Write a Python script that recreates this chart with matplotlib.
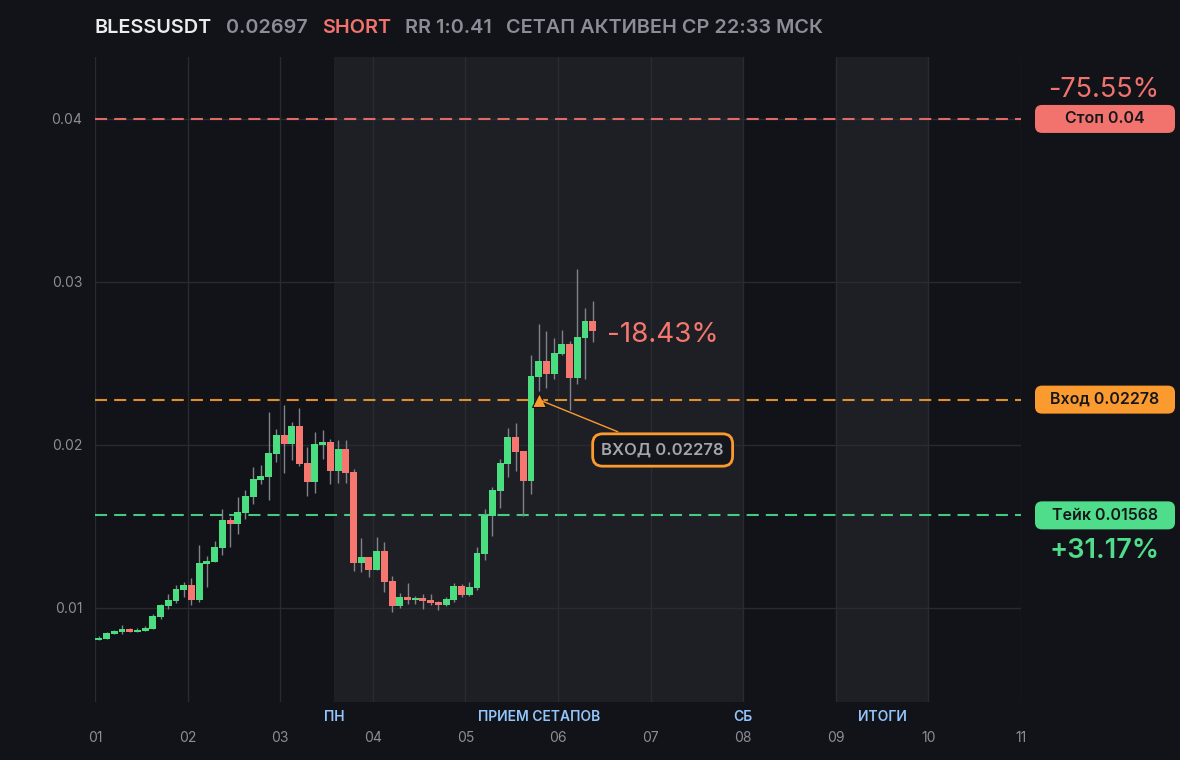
import numpy as np
import matplotlib
matplotlib.use("Agg")
import matplotlib.pyplot as plt
from matplotlib.patches import FancyBboxPatch
from matplotlib.transforms import IdentityTransform, blended_transform_factory

plt.rcParams['font.family'] = ['Inter', 'DejaVu Sans']

# --- data: 2h candles starting on day 01 ---
opens = [0.00806, 0.00810, 0.00842, 0.00855, 0.00871, 0.00855, 0.00861, 0.00873, 0.00947, 0.01014,
         0.01045, 0.01112, 0.01141, 0.01051, 0.01272, 0.01284, 0.01370, 0.01540, 0.01517, 0.01585,
         0.01683, 0.01787, 0.01806, 0.01947, 0.02061, 0.02008, 0.02117, 0.01890, 0.01775, 0.02002,
         0.02018, 0.01842, 0.01975, 0.01836, 0.01278, 0.01313, 0.01235, 0.01350, 0.01166, 0.01014,
         0.01067, 0.01051, 0.01061, 0.01049, 0.01037, 0.01018, 0.01049, 0.01135, 0.01080, 0.01123,
         0.01331, 0.01564, 0.01718, 0.01883, 0.02049, 0.01963, 0.01779, 0.02417, 0.02515, 0.02436,
         0.02558, 0.02620, 0.02411, 0.02656, 0.02761]
highs = [0.00828, 0.00850, 0.00865, 0.00896, 0.00875, 0.00877, 0.00890, 0.00963, 0.01026, 0.01086,
         0.01141, 0.01160, 0.01184, 0.01387, 0.01319, 0.01411, 0.01607, 0.01560, 0.01681, 0.01724,
         0.01865, 0.01877, 0.02202, 0.02098, 0.02245, 0.02141, 0.02227, 0.01988, 0.02080, 0.02092,
         0.02037, 0.02031, 0.02031, 0.01853, 0.01429, 0.01313, 0.01436, 0.01405, 0.01196, 0.01092,
         0.01153, 0.01074, 0.01086, 0.01086, 0.01043, 0.01067, 0.01153, 0.01147, 0.01160, 0.01374,
         0.01607, 0.01742, 0.01914, 0.02104, 0.02135, 0.01963, 0.02552, 0.02742, 0.02699, 0.02656,
         0.02706, 0.02638, 0.03080, 0.02840, 0.02883]
lows = [0.00804, 0.00808, 0.00840, 0.00840, 0.00853, 0.00852, 0.00858, 0.00870, 0.00934, 0.00996,
        0.01033, 0.01069, 0.01020, 0.01039, 0.01131, 0.01284, 0.01327, 0.01376, 0.01456, 0.01548,
        0.01640, 0.01763, 0.01664, 0.01898, 0.01830, 0.01910, 0.01873, 0.01689, 0.01707, 0.01916,
        0.01763, 0.01769, 0.01769, 0.01229, 0.01223, 0.01192, 0.01230, 0.01100, 0.00977, 0.01002,
        0.01026, 0.01026, 0.00996, 0.01018, 0.00990, 0.01012, 0.01037, 0.01067, 0.01074, 0.01110,
        0.01294, 0.01442, 0.01613, 0.01804, 0.01840, 0.01564, 0.01699, 0.02331, 0.02350, 0.02405,
        0.02550, 0.02215, 0.02374, 0.02405, 0.02632]
closes = [0.00818, 0.00847, 0.00859, 0.00871, 0.00855, 0.00865, 0.00877, 0.00951, 0.01018, 0.01049,
          0.01117, 0.01141, 0.01051, 0.01276, 0.01288, 0.01374, 0.01540, 0.01517, 0.01589, 0.01687,
          0.01791, 0.01810, 0.01951, 0.02061, 0.02008, 0.02117, 0.01885, 0.01775, 0.02006, 0.02018,
          0.01842, 0.01975, 0.01830, 0.01278, 0.01313, 0.01235, 0.01350, 0.01161, 0.01014, 0.01067,
          0.01051, 0.01061, 0.01043, 0.01031, 0.01018, 0.01055, 0.01135, 0.01080, 0.01129, 0.01337,
          0.01571, 0.01724, 0.01890, 0.02049, 0.01957, 0.01779, 0.02423, 0.02515, 0.02436, 0.02564,
          0.02620, 0.02411, 0.02663, 0.02761, 0.02697]

candles_per_day = 12
entry_index = 57

symbol = "BLESSUSDT"
last_price = "0.02697"
side = "SHORT"
rr_text = "RR 1:0.41"
status_text = "СЕТАП АКТИВЕН СР 22:33 МСК"

stop = 0.04
entry = 0.02278
take = 0.01568
stop_pct = "-75.55%"
take_pct = "+31.17%"
current_pct = "-18.43%"

day_ticks = list(range(1, 12))
periods = [(3 + 7 / 12, 8, "ПН", "ПРИЕМ СЕТАПОВ", "СБ"), (9, 10, None, "ИТОГИ", None)]

# --- colours ---
BG = "#121318"
SHADE = "#1e1f24"
GRID = "#2a2b31"
UP = "#4ade80"
DOWN = "#f6776f"
RED = "#f2736e"
ORANGE = "#fb9b2f"
GREEN = "#4fdd8b"
TXT = "#8b8e96"

fig = plt.figure(figsize=(11.8, 7.6), dpi=100, facecolor=BG)
ax = fig.add_axes([95 / 1180, 1 - 702 / 760, (1021 - 95) / 1180, (702 - 57) / 760])
ax.set_facecolor(BG)

opens = np.array(opens)
closes = np.array(closes)
highs = np.array(highs)
lows = np.array(lows)
x = 1 + (np.arange(len(opens)) + 0.5) / candles_per_day

# shaded periods
for start, end, left_lbl, mid_lbl, right_lbl in periods:
    ax.axvspan(start, end, color=SHADE, zorder=0, lw=0)

ax.set_xlim(1, 11)
ax.set_ylim(0.00423, 0.0438)
ax.set_xticks(day_ticks)
ax.set_xticklabels([f"{d:02d}" for d in day_ticks])
ax.set_yticks([0.01, 0.02, 0.03, 0.04])
ax.set_yticklabels(["0.01", "0.02", "0.03", "0.04"])
ax.grid(True, color=GRID, lw=1, zorder=0.5)
ax.set_axisbelow(True)
ax.tick_params(length=0, colors=TXT, labelsize=10)
ax.tick_params(axis="x", pad=21)
ax.tick_params(axis="y", pad=9)
for s in ax.spines.values():
    s.set_visible(False)

# level lines
for lvl, col in [(stop, RED), (entry, ORANGE), (take, GREEN)]:
    ax.axhline(lvl, color=col, lw=1.5, dashes=(5.8, 3.4), alpha=0.9, zorder=1)

# candles
up = closes >= opens
width = 0.9 / candles_per_day
ax.vlines(x, lows, highs, color="#80838b", lw=1, zorder=2)
bottom = np.minimum(opens, closes)
height = np.maximum(np.abs(closes - opens), 0.00008)
ax.bar(x[up], height[up], width, bottom[up], color=UP, zorder=3, lw=0)
ax.bar(x[~up], height[~up], width, bottom[~up], color=DOWN, zorder=3, lw=0)

# entry marker + callout
ax.plot(x[entry_index], entry, marker="^", ms=10, color=ORANGE, mec="#111111", mew=0.8, zorder=5)
ax.annotate(f"ВХОД {entry}", xy=(x[entry_index], entry), xytext=(7.13, 0.01969),
            ha="center", va="center", fontsize=12, color="#a3a6ad", fontweight="semibold",
            bbox=dict(boxstyle="round,pad=0.52,rounding_size=0.6", fc="#15161b", ec=ORANGE, lw=2),
            arrowprops=dict(arrowstyle="-", color=ORANGE, lw=1), zorder=6)

# current pct next to last candle
ax.text(x[-1] + 0.15, closes[-1] - 0.00025, current_pct, color=DOWN, fontsize=20,
        ha="left", va="center", zorder=6)

# period labels under the axis
trans = blended_transform_factory(ax.transData, ax.transAxes)
for start, end, left_lbl, mid_lbl, right_lbl in periods:
    for xx, lbl in [(start, left_lbl), ((start + end) / 2, mid_lbl), (end, right_lbl)]:
        if lbl:
            ax.text(xx, -0.023, lbl, transform=trans, ha="center", va="center",
                    color="#93c5fd", fontsize=10, fontweight="semibold")

# right side level boxes
def side_label(price, text, color):
    y = ax.transData.transform((1, price))[1]
    box = FancyBboxPatch((1035, y - 14), 140, 28, boxstyle="round,pad=0,rounding_size=7",
                         transform=IdentityTransform(), fc=color, ec="none")
    fig.add_artist(box)
    fig.text(1105 / 1180, y / 760, text, ha="center", va="center", color="#16171b",
             fontsize=11.5, fontweight="semibold")
    return y

y_stop = side_label(stop, f"Стоп {stop:g}", RED)
side_label(entry, f"Вход {entry}", ORANGE)
y_take = side_label(take, f"Тейк {take}", GREEN)
fig.text(1104 / 1180, (y_stop + 29) / 760, stop_pct, ha="center", va="center", color=RED,
         fontsize=19.5)
fig.text(1104 / 1180, (y_take - 36) / 760, take_pct, ha="center", va="center", color=GREEN,
         fontsize=19.5, fontweight="semibold")

# header line
renderer = fig.canvas.get_renderer()
xpos = 95
for s, c, w in [(symbol, "#ececee", "semibold"), (last_price, TXT, "semibold"),
                (side, RED, "semibold"), (rr_text, TXT, "semibold"), (status_text, TXT, "semibold")]:
    t = fig.text(xpos / 1180, 1 - 28 / 760, s, color=c, fontsize=14.3, fontweight=w, ha="left", va="center")
    xpos = t.get_window_extent(renderer).x1 + 14

fig.savefig("out.png", dpi=100, facecolor=BG)
